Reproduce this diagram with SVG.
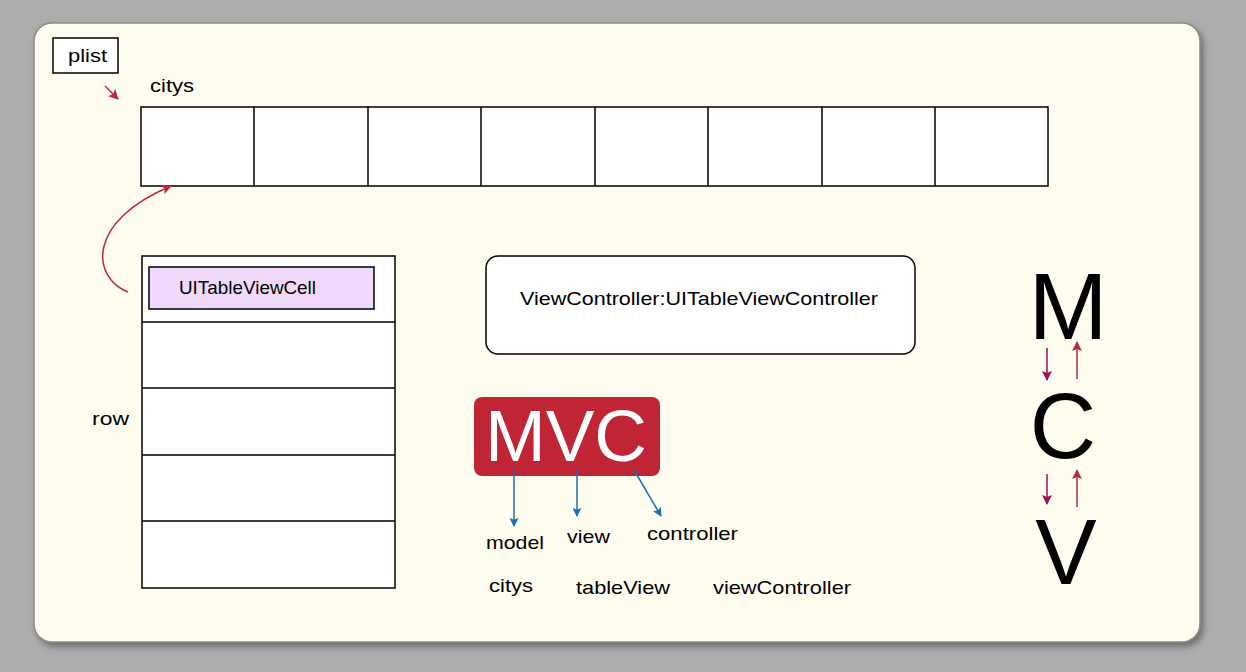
<svg xmlns="http://www.w3.org/2000/svg" width="1246" height="672" viewBox="0 0 1246 672">
<defs>
<style>
text{font-family:"Liberation Sans",Arial,sans-serif;fill:#000}
.t17{font-size:19px}
.box{fill:#fff;stroke:#000;stroke-width:1.5}
.blue{stroke:#1a6fb8;stroke-width:1.5;fill:none}
.red{stroke:#c0283a;stroke-width:1.5;fill:none}
.pur{stroke:#9e0f5a;stroke-width:1.5;fill:none}
</style>
<marker id="ab" viewBox="0 0 10 10" refX="9" refY="5" markerWidth="10" markerHeight="9" orient="auto" markerUnits="userSpaceOnUse"><path d="M0,0L10,5L0,10L2,5z" fill="#1a6fb8"/></marker>
<marker id="ar" viewBox="0 0 10 10" refX="9" refY="5" markerWidth="10" markerHeight="10" orient="auto" markerUnits="userSpaceOnUse"><path d="M0,0L10,5L0,10L2,5z" fill="#c0283a"/></marker>
<marker id="ap" viewBox="0 0 10 10" refX="9" refY="5" markerWidth="10" markerHeight="10" orient="auto" markerUnits="userSpaceOnUse"><path d="M0,0L10,5L0,10L2,5z" fill="#9e0f5a"/></marker>
<filter id="sh" x="-5%" y="-5%" width="110%" height="115%"><feDropShadow dx="3" dy="4" stdDeviation="3" flood-color="#555" flood-opacity="0.7"/></filter>
</defs>
<rect width="1246" height="672" fill="#adadad"/>
<rect x="34" y="23" width="1166" height="619" rx="18" fill="#fefdf0" stroke="#8a8a8a" stroke-width="1.5" filter="url(#sh)"/>

<g id="plist"><rect class="box" x="53" y="38" width="65" height="35"/><text class="t17" x="68" y="62" textLength="39" lengthAdjust="spacingAndGlyphs">plist</text></g>
<g id="citys-label"><text class="t17" x="150" y="92" textLength="44" lengthAdjust="spacingAndGlyphs">citys</text></g>
<g id="array">
<rect class="box" x="141" y="107" width="907" height="79"/>
<path d="M254,107V186M368,107V186M481,107V186M595,107V186M708,107V186M822,107V186M935,107V186" stroke="#000" stroke-width="1.5"/>
</g>
<g id="table">
<rect class="box" x="142" y="256" width="253" height="332"/>
<path d="M142,322H395M142,388H395M142,455H395M142,521H395" stroke="#000" stroke-width="1.5"/>
<rect x="149" y="267" width="225" height="42" fill="#f0d9fa" stroke="#000" stroke-width="1.5"/>
<text class="t17" x="179" y="294" textLength="137" lengthAdjust="spacingAndGlyphs">UITableViewCell</text>
</g>
<g id="row"><text class="t17" x="92" y="425" textLength="37" lengthAdjust="spacingAndGlyphs">row</text></g>
<g id="viewcontroller"><rect class="box" x="486" y="256" width="429" height="98" rx="12"/><text class="t17" x="520" y="305" textLength="358" lengthAdjust="spacingAndGlyphs">ViewController:UITableViewController</text></g>
<g id="mvc"><rect x="474" y="397" width="186" height="79" rx="8" fill="#c02535"/><text x="485" y="461" font-size="73" textLength="162" lengthAdjust="spacingAndGlyphs" style="fill:#fff">MVC</text></g>
<g id="mvc-labels">
<text class="t17" x="486" y="549" textLength="58" lengthAdjust="spacingAndGlyphs">model</text>
<text class="t17" x="567" y="543" textLength="43" lengthAdjust="spacingAndGlyphs">view</text>
<text class="t17" x="647" y="540" textLength="91" lengthAdjust="spacingAndGlyphs">controller</text>
<text class="t17" x="489" y="592" textLength="44" lengthAdjust="spacingAndGlyphs">citys</text>
<text class="t17" x="576" y="594" textLength="94" lengthAdjust="spacingAndGlyphs">tableView</text>
<text class="t17" x="713" y="594" textLength="138" lengthAdjust="spacingAndGlyphs">viewController</text>
</g>
<g id="mcv">
<text x="1068" y="339" text-anchor="middle" font-size="95">M</text>
<text x="1063" y="458" text-anchor="middle" font-size="92">C</text>
<text x="1066" y="584" text-anchor="middle" font-size="92">V</text>
</g>
<g id="connectors">
<line class="red" x1="105" y1="86" x2="118" y2="99" marker-end="url(#ar)"/>
<path class="red" d="M128,292C92,278 85,222 171,186" marker-end="url(#ar)"/>
<line class="blue" x1="514" y1="470" x2="514" y2="526" marker-end="url(#ab)"/>
<line class="blue" x1="577" y1="470" x2="577" y2="516" marker-end="url(#ab)"/>
<line class="blue" x1="634" y1="470" x2="661" y2="516" marker-end="url(#ab)"/>
<line class="pur" x1="1047" y1="348" x2="1047" y2="380" marker-end="url(#ap)"/>
<line class="red" x1="1077" y1="379" x2="1077" y2="342" marker-end="url(#ar)"/>
<line class="pur" x1="1047" y1="474" x2="1047" y2="504" marker-end="url(#ap)"/>
<line class="red" x1="1077" y1="507" x2="1077" y2="470" marker-end="url(#ar)"/>
</g>
</svg>
